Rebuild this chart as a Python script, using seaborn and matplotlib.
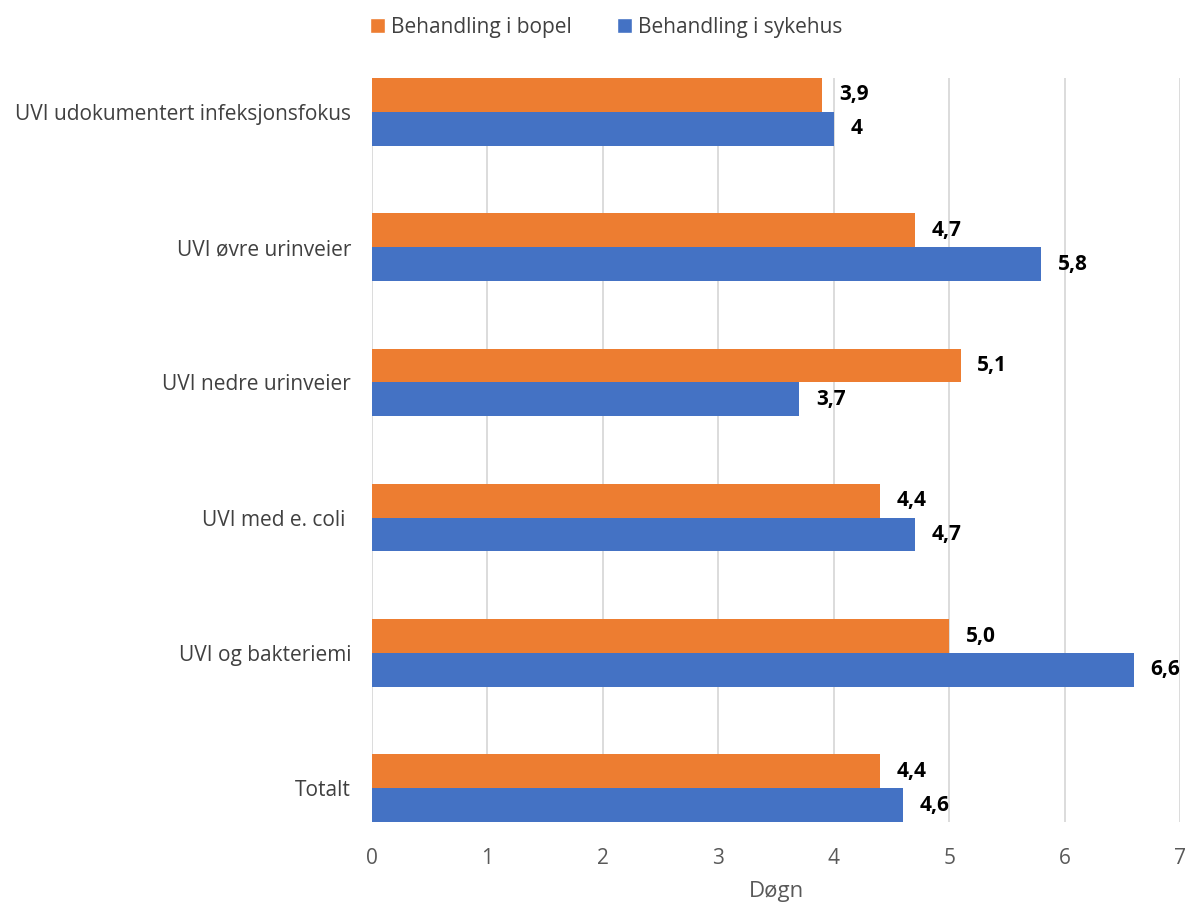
import matplotlib
matplotlib.use("Agg")
import matplotlib.pyplot as plt
import seaborn as sns
import pandas as pd

categories = ["UVI udokumentert infeksjonsfokus", "UVI øvre urinveier", "UVI nedre urinveier",
              "UVI med e. coli ", "UVI og bakteriemi", "Totalt"]
series_names = ["Behandling i bopel", "Behandling i sykehus"]
bopel = [3.9, 4.7, 5.1, 4.4, 5.0, 4.4]
sykehus = [4.0, 5.8, 3.7, 4.7, 6.6, 4.6]
bopel_labels = ["3,9", "4,7", "5,1", "4,4", "5,0", "4,4"]
sykehus_labels = ["4", "5,8", "3,7", "4,7", "6,6", "4,6"]
xticks = [0, 1, 2, 3, 4, 5, 6, 7]
xlabel = "Døgn"

sns.set_theme(style="white")
plt.rcParams['font.family'] = ['Open Sans', 'DejaVu Sans']

df = pd.DataFrame({
    "cat": categories * 2,
    "val": bopel + sykehus,
    "serie": [series_names[0]] * len(categories) + [series_names[1]] * len(categories),
})

fig = plt.figure(figsize=(11.89, 9.05), dpi=100)
ax = fig.add_axes([0.3129, 0.0917, 0.6795, 0.8221])
sns.barplot(data=df, x="val", y="cat", hue="serie", orient="h", order=categories,
            hue_order=series_names, palette=["#ED7D31", "#4472C4"], width=0.5, gap=0,
            saturation=1, ax=ax, legend=False, zorder=3, linewidth=0)

for cont, labs in zip(ax.containers, [bopel_labels, sykehus_labels]):
    ax.bar_label(cont, labels=labs, padding=12, fontsize=15, fontweight="bold", color="black")

ax.set_xlim(0, 7)
ax.set_ylim(5.25, -0.25)
ax.set_xticks(xticks)
ax.set_xticklabels([str(t) for t in xticks], fontsize=15, color="#595959")
ax.tick_params(axis="y", labelsize=15, labelcolor="#404040", length=0, pad=15)
ax.tick_params(axis="x", length=0, pad=19)
ax.set_ylabel("")
ax.set_xlabel(xlabel, fontsize=16, color="#595959", labelpad=8)
ax.xaxis.grid(True, color="#D9D9D9", linewidth=1.3, zorder=0)
ax.set_axisbelow(True)
for s in ax.spines.values():
    s.set_visible(False)

from matplotlib.patches import Patch
handles = [Patch(facecolor="#ED7D31"), Patch(facecolor="#4472C4")]
fig.legend(handles, series_names, loc="center", bbox_to_anchor=(0.51, 0.970), ncol=2,
           frameon=False, fontsize=15, handlelength=0.7, handleheight=0.7,
           handletextpad=0.3, columnspacing=2.2, labelcolor="#404040")

fig.savefig("out.png", dpi=100)
